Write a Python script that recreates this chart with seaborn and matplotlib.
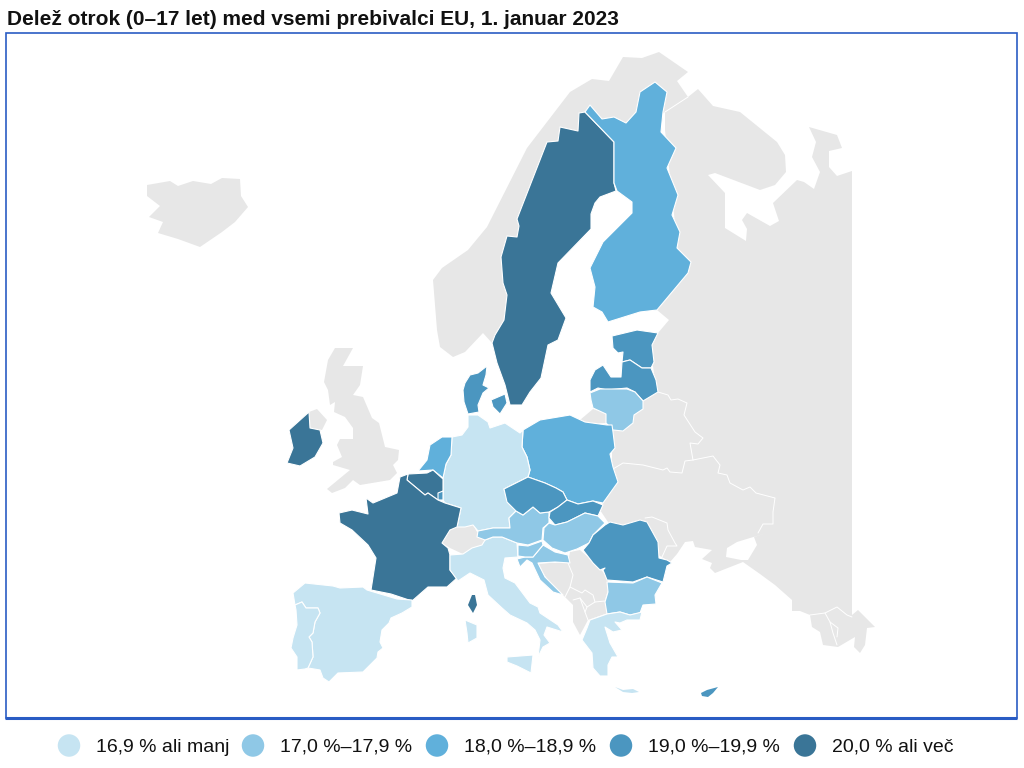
import seaborn as sns
import matplotlib.pyplot as plt
from matplotlib.patches import Rectangle

# Class of each EU country (0 = lowest share, 4 = highest)
countries = ['Sweden', 'Finland', 'Estonia', 'Latvia', 'Lithuania', 'Poland', 'Germany', 'Netherlands',
             'Belgium', 'Luxembourg', 'France', 'Corsica', 'Sardinia', 'Sicily', 'Italy', 'Austria', 'Czechia',
             'Slovakia', 'Hungary', 'Romania', 'Bulgaria', 'Greece', 'Crete', 'Cyprus', 'Croatia', 'Slovenia',
             'Ireland', 'Denmark', 'Zealand', 'Spain', 'Portugal']
classes = [4, 2, 3, 3, 1, 2, 0, 2,
           4, 3, 4, 4, 0, 0, 0, 1, 3,
           3, 1, 3, 1, 0, 0, 3, 1, 1,
           4, 3, 3, 0, 0]
small_islands = ['Corsica', 'Crete', 'Cyprus']

class_labels = ['16,9 % ali manj', '17,0 %\u201317,9 %', '18,0 %\u201318,9 %', '19,0 %\u201319,9 %', '20,0 % ali ve\u010d']
class_colors = ['#C6E4F2', '#8FC8E6', '#60B0DB', '#4B96C0', '#3A7597']
no_data_color = '#E7E7E7'
title = 'Delež otrok (0\u201317 let) med vsemi prebivalci EU, 1. januar 2023'

# Base map outlines, in pixels
outlines = {
    'Sweden': [(585,112),(614,142),(614,183),(616,191),(600,197),(595,203),(591,214),(591,229),(558,263),(551,293),
               (566,318),(558,340),(548,345),(541,378),(530,392),(522,405),(510,405),(505,385),(497,363),(492,343),
               (495,335),(504,320),(507,295),(503,283),(501,257),(507,236),(517,237),(519,226),(517,219),(547,142),
               (558,141),(560,127),(578,131),(579,113)],
    'Finland': [(655,82),(667,92),(663,112),(661,132),(676,148),(667,168),(678,195),(672,215),(680,232),(677,248),
                (691,262),(688,273),(657,310),(640,312),(608,322),(602,312),(593,307),(595,287),(590,268),(603,242),
                (632,213),(632,202),(617,191),(614,183),(614,142),(585,112),(590,105),(602,119),(614,117),(626,123),
                (636,112),(640,92)],
    'Estonia': [(612,336),(637,330),(658,333),(652,345),(654,362),(651,368),(642,368),(630,360),(622,362),(623,352),
                (618,353),(613,348)],
    'Latvia': [(590,392),(590,380),(595,370),(603,365),(611,377),(621,377),(622,362),(630,360),(642,368),(651,368),
               (656,380),(658,392),(643,401),(635,392),(627,388),(607,390),(598,388)],
    'Lithuania': [(590,393),(600,389),(627,389),(635,392),(643,401),(643,409),(634,415),(633,423),(623,431),(613,430),
                  (606,423),(606,414),(593,408),(591,400)],
    'Poland': [(523,430),(540,420),(570,415),(585,422),(607,425),(612,425),(613,432),(615,448),(610,454),(613,467),
               (618,482),(603,503),(593,501),(578,504),(567,500),(563,492),(556,488),(545,483),(528,477),(530,470),
               (527,457),(522,447)],
    'Germany': [(468,415),(478,415),(488,422),(490,428),(505,423),(520,433),(523,430),(522,447),(527,457),(530,470),
                (528,477),(504,489),(507,500),(520,513),(516,511),(509,518),(510,528),(493,528),(478,531),(473,525),
                (465,527),(457,527),(461,508),(445,503),(443,500),(443,491),(443,477),(446,464),(451,455),(452,437),
                (462,435),(468,427)],
    'Netherlands': [(452,437),(442,437),(430,445),(427,460),(418,471),(433,470),(443,478),(446,464),(451,455)],
    'Belgium': [(408,474),(427,473),(433,470),(443,479),(443,491),(438,500),(428,493),(425,495),(413,485),(407,480)],
    'Luxembourg': [(438,493),(443,491),(443,500),(438,500)],
    'France': [(408,474),(400,477),(397,493),(373,503),(366,498),(368,514),(352,510),(339,513),(340,523),(352,530),
               (368,545),(376,558),(371,590),(391,594),(412,601),(428,587),(447,587),(457,578),(450,570),(450,555),
               (448,548),(442,543),(450,530),(457,527),(461,508),(445,503),(438,500),(428,493),(425,495),(413,485),
               (407,480)],
    'Corsica': [(472,595),(475,595),(477,605),(473,613),(468,605)],
    'Sardinia': [(465,620),(477,625),(477,638),(468,643),(467,633)],
    'Sicily': [(507,657),(533,655),(531,673),(517,666),(507,662)],
    'Italy': [(485,540),(493,537),(502,537),(517,543),(518,557),(505,558),(503,568),(505,578),(515,583),(530,603),
              (538,607),(540,613),(558,625),(563,632),(547,627),(544,635),(550,643),(543,647),(538,657),(540,640),
              (535,630),(527,623),(510,615),(502,608),(488,595),(484,580),(470,573),(458,581),(450,570),(450,555),
              (463,554),(472,548),(482,545)],
    'Austria': [(478,531),(493,528),(510,528),(509,518),(516,511),(523,515),(533,507),(540,513),(549,512),(549,523),
                (543,528),(542,540),(528,545),(517,543),(502,537),(493,537),(485,540),(477,537)],
    'Czechia': [(504,489),(528,477),(545,483),(556,488),(563,492),(567,500),(558,507),(549,512),(540,513),(533,507),
                (523,515),(516,511),(507,502)],
    'Slovakia': [(567,500),(578,504),(593,501),(603,505),(598,516),(585,513),(567,522),(555,525),(549,518),(550,512),
                 (558,507)],
    'Hungary': [(549,523),(555,525),(567,522),(585,513),(598,516),(605,523),(593,535),(589,543),(577,549),(565,553),
                (552,548),(543,540),(544,528)],
    'Romania': [(605,525),(610,522),(623,525),(640,520),(647,522),(658,542),(659,558),(667,560),(672,563),(667,566),
                (663,582),(647,577),(633,582),(607,580),(603,570),(605,568),(600,570),(593,563),(583,550),(589,543),
                (593,535)],
    'Bulgaria': [(607,582),(633,583),(647,577),(662,583),(655,595),(656,604),(643,605),(640,613),(630,615),(620,612),
                 (607,614),(605,602),(608,592)],
    'Greece': [(590,620),(607,614),(620,612),(630,615),(642,612),(640,620),(627,620),(620,623),(615,622),(622,630),
               (613,632),(605,627),(610,643),(618,657),(612,657),(608,665),(608,676),(600,676),(593,668),(592,653),
               (582,640),(587,628)],
    'Crete': [(615,687),(623,690),(633,689),(639,692),(632,693),(623,692)],
    'Cyprus': [(701,693),(707,690),(718,687),(713,693),(708,697),(702,696)],
    'Croatia': [(533,557),(543,545),(555,552),(568,555),(570,563),(555,562),(538,563),(545,577),(563,595),(553,592),
                (540,580),(532,563),(527,560),(520,567),(517,559),(525,557)],
    'Slovenia': [(518,545),(528,546),(542,541),(543,545),(533,557),(525,557),(518,556)],
    'Ireland': [(309,412),(310,428),(320,430),(323,443),(315,457),(300,466),(287,463),(293,448),(289,430)],
    'Denmark': [(465,383),(470,375),(478,373),(487,366),(486,375),(483,385),(489,388),(483,393),(478,405),(479,412),
                (468,414),(464,402),(463,390)],
    'Zealand': [(491,400),(505,394),(507,403),(500,414),(493,407)],
    'Spain': [(293,593),(305,583),(333,586),(340,588),(363,587),(367,590),(397,599),(412,600),(412,607),(402,613),
              (391,618),(389,623),(382,630),(380,642),(383,648),(378,652),(377,658),(363,672),(338,673),(329,682),
              (323,678),(320,670),(308,668),(313,657),(312,642),(309,637),(313,633),(315,622),(320,613),(318,608),
              (306,608),(302,602),(295,605)],
    'Portugal': [(295,605),(302,602),(306,608),(318,608),(320,613),(315,622),(313,633),(309,637),(312,642),(313,657),
                 (308,668),(305,669),(297,670),(297,657),(291,648),(293,638),(297,625),(296,610)],
}

grey_outlines = [
    # Iceland
    [(147,185),(170,181),(178,186),(193,181),(211,184),(222,178),(240,179),(241,196),(248,207),(235,222),(222,232),
     (200,247),(178,239),(158,233),(163,222),(149,217),(160,206),(147,196)],
    # Norway
    [(433,280),(442,268),(468,250),(487,227),(527,148),(570,92),(592,79),(609,81),(623,57),(642,58),(659,52),(688,72),
     (677,81),(688,97),(665,112),(640,130),(600,130),(560,160),(520,300),(500,335),(492,343),(483,333),(465,352),
     (453,357),(440,347),(437,330)],
    # UK
    [(335,348),(353,348),(343,366),(363,366),(360,385),(353,395),(363,397),(372,418),(379,423),(385,447),(399,450),
     (398,460),(393,465),(397,473),(390,480),(360,485),(353,480),(345,488),(332,493),(327,489),(350,470),(333,465),
     (333,462),(342,457),(337,445),(340,439),(353,439),(353,428),(345,417),(334,412),(335,402),(330,405),(328,390),
     (324,382),(328,360)],
    # Northern Ireland
    [(309,412),(317,409),(327,420),(322,430),(310,428)],
    # Kaliningrad
    [(580,420),(593,409),(606,413),(606,423),(590,424)],
    # Switzerland
    [(442,543),(450,530),(457,527),(473,525),(477,532),(485,540),(482,545),(472,548),(463,554),(450,548)],
    # Western Balkans
    [(537,564),(550,563),(568,563),(570,552),(580,550),(588,557),(603,572),(608,580),(608,590),(605,600),(608,613),
     (588,620),(580,635),(573,622),(573,605),(565,597),(550,583)],
    # Russia, Belarus, Ukraine, Moldova and the Caucasus
    [(688,97),(698,89),(713,106),(740,112),(777,142),(785,155),(786,172),(775,185),(760,190),(715,173),(708,175),
     (725,193),(725,228),(746,241),(747,229),(742,220),(747,213),(770,226),(779,221),(773,203),(797,180),(804,182),
     (814,189),(820,172),(812,157),(816,142),(809,127),(837,135),(842,148),(829,151),(829,167),(837,176),(852,171),
     (852,615),(858,610),(875,627),(867,628),(865,645),(860,653),(854,647),(855,637),(838,647),(823,645),(820,632),
     (812,627),(810,615),(800,611),(792,611),(792,600),(775,585),(760,574),(743,562),(715,573),(710,568),(712,563),
     (702,559),(712,550),(695,547),(693,541),(685,542),(677,554),(670,562),(650,550),(620,540),(600,510),(612,480),
     (612,425),(640,400),(655,380),(650,345),(658,333),(669,320),(657,310),(680,270),(665,130),(665,112)],
]

# White seas and borders on the grey land
azov = [(767,533),(750,538),(737,542),(727,548),(726,557),(741,560),(748,560),(757,545),(754,537)]
border_lines = [
    [(658,392),(668,395),(671,400),(678,399),(687,403),(684,415),(695,432),(703,438),(698,444),(690,443),(693,460)],
    [(613,469),(623,463),(643,465),(663,470),(667,468),(670,472),(682,473),(685,461),(693,460)],
    [(693,460),(713,456),(720,465),(718,473),(727,475),(730,483),(743,490),(750,487),(756,493),(775,498),(773,512),
     (773,524),(763,524),(758,533)],
    [(645,518),(652,517),(667,523),(668,530),(675,543),(677,546),(667,546),(662,557)],
    [(688,97),(665,112)],
    [(810,615),(825,613),(837,607),(847,615),(852,617)],
    [(825,613),(830,622),(833,633),(837,645)],
    [(830,622),(838,628),(837,637)],
    [(568,563),(573,575),(570,587),(565,597)],
    [(570,587),(582,593),(585,590),(593,595),(595,602),(587,607),(580,598),(573,600)],
    [(580,598),(585,612),(588,620)],
    [(587,607),(585,612)],
    [(595,602),(605,601)],
]

sns.set_theme(style='white')
plt.rcParams['font.family'] = ['Liberation Sans', 'DejaVu Sans']

fig = plt.figure(figsize=(10.24, 7.68), dpi=100)
ax = fig.add_axes([0, 0, 1, 1])
ax.set_xlim(0, 1024)
ax.set_ylim(768, 0)
ax.axis('off')

frame_color = '#2A5CC4'
ax.add_patch(Rectangle((5.5, 32.5), 1011, 685, fill=False, edgecolor=frame_color, lw=1.2))
ax.plot([5, 1017], [718, 718], color=frame_color, lw=2.2, solid_capstyle='butt')

for shape in grey_outlines:
    xs, ys = zip(*shape)
    ax.fill(xs, ys, facecolor=no_data_color, edgecolor='none', zorder=2)
xs, ys = zip(*azov)
ax.fill(xs, ys, facecolor='white', edgecolor='none', zorder=3)
for line in border_lines:
    xs, ys = zip(*line)
    ax.plot(xs, ys, color='white', lw=0.7, zorder=4)

for name, cls in zip(countries, classes):
    xs, ys = zip(*outlines[name])
    edge_width = 0.0 if name in small_islands else 0.8
    ax.fill(xs, ys, facecolor=class_colors[cls], edgecolor='white', lw=edge_width, joinstyle='round', zorder=5)

ax.text(7, 25, title, fontsize=15.05, fontweight='bold', color='#111111', ha='left', va='baseline')

# Legend row: one circle per class, through seaborn
leg_ax = fig.add_axes([0, 0, 1, 45 / 768])
leg_ax.set_xlim(-69 / 184, (1024 - 69) / 184)
leg_ax.set_ylim(-1, 1)
leg_ax.axis('off')
sns.scatterplot(x=list(range(len(class_labels))), y=[0] * len(class_labels), hue=class_labels,
                palette=class_colors, s=262, linewidth=0, legend=False, ax=leg_ax, clip_on=False)
for i, label in enumerate(class_labels):
    leg_ax.annotate(label, (i, 0), xytext=(27 / 1.389, 0), textcoords='offset points', fontsize=14,
                    color='#111111', ha='left', va='center_baseline')

fig.savefig('out.png', dpi=100)
